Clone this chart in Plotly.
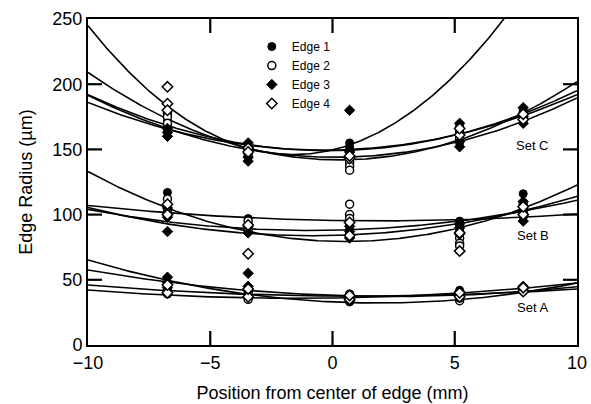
import numpy as np
import plotly.graph_objects as go

# measurement positions (mm from edge centre)
positions = [-6.75, -3.45, 0.7, 5.2, 7.8]

# Set C values per position (um)
setC_edge1 = [[172, 168, 165, 176], [150, 147, 152], [155, 150, 146, 152], [168, 165, 160, 155], [180, 176, 172]]
setC_edge2 = [[178, 175, 170], [149, 146], [140, 137, 134], [163, 158], [178, 174]]
setC_edge3 = [[160, 163, 166], [155, 144, 141], [180, 148, 144], [152, 156, 170], [170, 175, 182]]
setC_edge4 = [[198, 185, 180], [151, 148], [143, 145], [161, 166], [173, 177]]

# Set B
setB_edge1 = [[117, 104, 100], [97, 93, 90], [93, 89, 85], [95, 92, 88], [116, 105, 98]]
setB_edge2 = [[112, 102], [95, 88], [108, 100, 97], [82, 78, 76], [108, 101]]
setB_edge3 = [[87, 98, 105], [86, 91], [82, 87, 91], [90, 85, 93], [95, 103, 110]]
setB_edge4 = [[108, 100], [70, 92], [84, 94], [72, 86], [100, 106]]

# Set A
setA_edge1 = [[39, 42, 45], [36, 38, 41], [33, 35, 38], [42, 40, 38], [41, 43]]
setA_edge2 = [[41, 47], [35, 40], [36, 39], [34, 36], [42]]
setA_edge3 = [[52, 48, 44], [55, 45, 42], [34, 37], [41, 39], [45, 43]]
setA_edge4 = [[40, 46], [37, 43], [35, 38], [37, 40], [41, 44]]

# quadratic fit coefficients [c0, c1, c2]: y = c0 + c1*x + c2*x^2
setC_fits = [[149.6, 4.48, 1.40], [142.0, -0.35, 0.635], [149.0, 0.15, 0.445],
             [149.5, 0.30, 0.395], [144.0, -0.10, 0.465]]
setB_fits = [[79.5, -0.515, 0.4835], [95.5, -0.325, 0.0825], [88.0, 0.35, 0.195],
             [84.0, 0.425, 0.2575]]
setA_fits = [[33.0, -0.885, 0.2335], [38.0, -0.64, 0.131], [37.5, -0.15, 0.07],
             [36.0, 0.265, 0.0885]]

x_ticks = [-10, -5, 0, 5, 10]
y_ticks = [0, 50, 100, 150, 200, 250]

edge_names = ["Edge 1", "Edge 2", "Edge 3", "Edge 4"]
set_labels = ["Set C", "Set B", "Set A"]
set_label_y = [153, 84, 29]
set_label_x = 8.2

FONT = "Liberation Sans, Arial"
X_RANGE = [-10, 10]
Y_RANGE = [0, 250]
PLOT_W, PLOT_H = 489, 326
TICK_PX = 14

fig = go.Figure()

xs = np.linspace(-10, 10, 401)
for fits in (setC_fits, setB_fits, setA_fits):
    for c0, c1, c2 in fits:
        ys = c0 + c1 * xs + c2 * xs ** 2
        fig.add_trace(go.Scatter(x=xs, y=ys, mode="lines",
                                 line=dict(color="black", width=1.6),
                                 showlegend=False, hoverinfo="skip"))

# inside tick marks on all four sides, one short segment per tick value
ty = TICK_PX * (Y_RANGE[1] - Y_RANGE[0]) / PLOT_H
tx = TICK_PX * (X_RANGE[1] - X_RANGE[0]) / PLOT_W
for t in x_ticks[1:-1]:
    for y0, y1 in ((Y_RANGE[0], Y_RANGE[0] + ty), (Y_RANGE[1], Y_RANGE[1] - ty)):
        fig.add_trace(go.Scatter(x=[t, t], y=[y0, y1], mode="lines",
                                 line=dict(color="black", width=2.2),
                                 showlegend=False, hoverinfo="skip", cliponaxis=False))
for t in y_ticks[1:-1]:
    for x0, x1 in ((X_RANGE[0], X_RANGE[0] + tx), (X_RANGE[1], X_RANGE[1] - tx)):
        fig.add_trace(go.Scatter(x=[x0, x1], y=[t, t], mode="lines",
                                 line=dict(color="black", width=2.2),
                                 showlegend=False, hoverinfo="skip", cliponaxis=False))

edges = [
    [setC_edge1, setB_edge1, setA_edge1],
    [setC_edge2, setB_edge2, setA_edge2],
    [setC_edge3, setB_edge3, setA_edge3],
    [setC_edge4, setB_edge4, setA_edge4],
]
styles = [
    dict(symbol="circle", size=8, color="black", line=dict(color="black", width=1)),
    dict(symbol="circle", size=8, color="white", line=dict(color="black", width=1.5)),
    dict(symbol="diamond", size=8, color="black", line=dict(color="black", width=1)),
    dict(symbol="diamond", size=8, color="white", line=dict(color="black", width=1.5)),
]
for name, sets, st in zip(edge_names, edges, styles):
    px, py = [], []
    for s in sets:
        for pos, vals in zip(positions, s):
            for v in vals:
                px.append(pos)
                py.append(v)
    fig.add_trace(go.Scatter(x=px, y=py, mode="markers", name=name, marker=st))

for lab, ly in zip(set_labels, set_label_y):
    fig.add_annotation(x=set_label_x, y=ly, text=lab, showarrow=False,
                       font=dict(size=13, color="black", family=FONT))

axis_common = dict(showline=True, linecolor="black", linewidth=2, mirror=True,
                   ticks="", showgrid=False, zeroline=False, automargin=False,
                   tickfont=dict(size=18, color="black", family=FONT))

fig.update_xaxes(range=X_RANGE, tickvals=x_ticks,
                 title=dict(text="Position from center of edge (mm)",
                            font=dict(size=18, color="black", family=FONT)),
                 **axis_common)
fig.update_yaxes(range=Y_RANGE, tickvals=y_ticks,
                 title=dict(text="Edge Radius (µm)",
                            font=dict(size=18, color="black", family=FONT)),
                 **axis_common)

fig.update_layout(
    width=591, height=404,
    margin=dict(l=88, r=14, t=19, b=59),
    plot_bgcolor="white", paper_bgcolor="white",
    legend=dict(x=0.335, y=0.96, xanchor="left", yanchor="top",
                bgcolor="rgba(0,0,0,0)", font=dict(size=12, color="black", family=FONT),
                itemwidth=30, tracegroupgap=0),
)

fig.write_html("out.html", config={"displayModeBar": False},
               post_script="document.body.style.margin='0';document.body.style.overflow='hidden';")
